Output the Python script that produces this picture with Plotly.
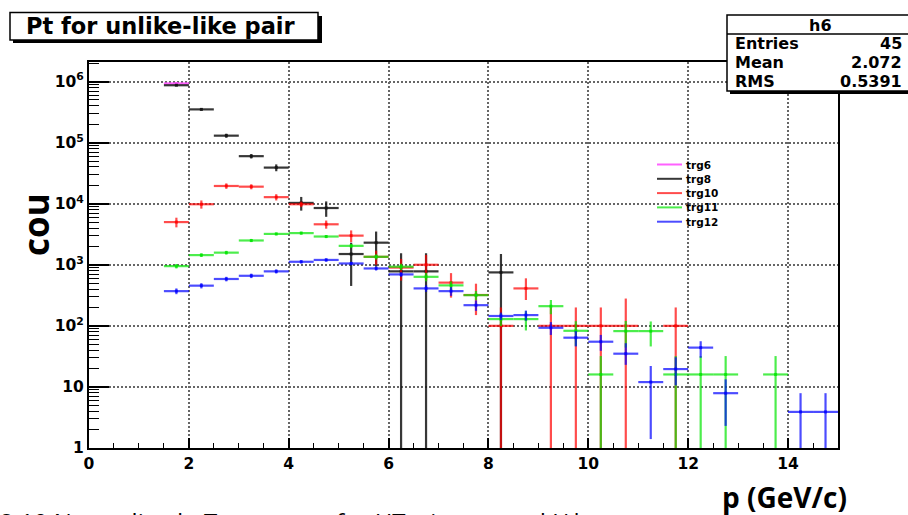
import plotly.graph_objects as go

# ---------------- data ----------------
BIN_WIDTH = 0.5
series_names = ["trg6", "trg8", "trg10", "trg11", "trg12"]
series_colors = ["rgba(255,80,255,0.9)", "rgba(20,20,20,0.85)", "rgba(255,0,0,0.7)",
                 "rgba(0,230,0,0.7)", "rgba(0,0,255,0.7)"]

trg6_x = [1.75]
trg6_y = [9.3e5]
trg6_ep = [1.0e4]
trg6_em = [1.0e4]

trg8_x = [1.75, 2.25, 2.75, 3.25, 3.75, 4.25, 4.75, 5.25, 5.75, 6.25, 6.75, 8.25]
trg8_y = [8.7e5, 3.5e5, 1.3e5, 6.0e4, 3.9e4, 1.03e4, 8.5e3, 1.5e3, 2.3e3, 780, 780, 750]
trg8_ep = [2e4, 1.5e4, 1e4, 5e3, 5e3, 2.6e3, 2.4e3, 800, 1200, 770, 770, 750]
trg8_em = [2e4, 1.5e4, 1e4, 5e3, 5e3, 2.6e3, 2.4e3, 1050, 1370, 780, 780, 750]

trg10_x = [1.75, 2.25, 2.75, 3.25, 3.75, 4.25, 4.75, 5.25, 5.75, 6.25, 6.75, 7.25, 7.75,
           8.25, 8.75, 9.25, 9.75, 10.25, 10.75, 11.75]
trg10_y = [5.0e3, 9.8e3, 1.95e4, 1.9e4, 1.28e4, 9.8e3, 4.6e3, 3.0e3, 1.35e3, 900, 1000, 510, 320,
           100, 410, 100, 100, 100, 100, 100]
trg10_ep = [900, 1500, 2000, 1800, 1500, 1000, 700, 650, 350, 350, 450, 220, 170,
            100, 190, 100, 100, 100, 180, 100]
trg10_em = [900, 1500, 2000, 1800, 1500, 1000, 700, 650, 350, 350, 450, 220, 170,
            100, 145, 100, 100, 100, 100, 100]

trg11_x = [1.75, 2.25, 2.75, 3.25, 3.75, 4.25, 4.75, 5.25, 5.75, 6.25, 6.75, 7.25, 7.75,
           8.25, 8.75, 9.25, 9.75, 10.25, 10.75, 11.25, 11.75, 12.25, 12.75, 13.75]
trg11_y = [950, 1440, 1580, 2500, 3200, 3300, 2900, 2040, 1350, 930, 635, 460, 318,
           129, 129, 210, 83, 16, 82, 82, 16, 16, 16, 16]
trg11_ep = [80, 100, 110, 150, 170, 180, 170, 150, 130, 110, 100, 75, 55,
            30, 45, 55, 36, 16, 38, 36, 16, 16, 16, 16]
trg11_em = [80, 100, 110, 150, 170, 180, 170, 150, 130, 110, 100, 75, 55,
            30, 45, 55, 36, 16, 38, 36, 16, 16, 16, 16]

trg12_x = [1.75, 2.25, 2.75, 3.25, 3.75, 4.25, 4.75, 5.25, 5.75, 6.25, 6.75, 7.25, 7.75,
           8.25, 8.75, 9.25, 9.75, 10.25, 10.75, 11.25, 11.75, 12.25, 12.75, 14.25, 14.75]
trg12_y = [370, 455, 585, 660, 780, 1120, 1200, 1050, 870, 695, 410, 370, 218,
           145, 150, 93, 64, 55, 35, 12, 19.6, 44, 7.9, 3.9, 3.9]
trg12_ep = [40, 45, 50, 55, 60, 70, 75, 70, 65, 60, 50, 60, 42,
            20, 28, 22, 18, 16, 17, 10, 11, 12, 5.4, 4, 4]
trg12_em = [40, 45, 50, 55, 60, 70, 75, 70, 65, 60, 50, 60, 42,
            20, 28, 22, 18, 16, 12, 10.6, 9, 14, 5.6, 3.9, 3.9]

x_ticks = [0, 2, 4, 6, 8, 10, 12, 14]
y_tickvals = [1, 10, 100, 1e3, 1e4, 1e5, 1e6]
y_ticktext = ["1", "10", "10<sup>2</sup>", "10<sup>3</sup>", "10<sup>4</sup>",
              "10<sup>5</sup>", "10<sup>6</sup>"]

title_text = "Pt for unlike-like pair"
stats_name = "h6"
stats_rows = [("Entries", "45"), ("Mean", "2.072"), ("RMS", "0.5391")]
x_title = "p (GeV/c)"
y_title = "cou"
caption = "2.10 Normalized pT spectrum for HT triggers and J/ψ"

# ---------------- figure ----------------
W, H = 908, 515
L, R, T, B = 89, 838, 62, 448
PW, PH = R - L, B - T


def px(x):
    return (x - L) / PW


def py(y):
    return (B - y) / PH


all_series = [
    (trg6_x, trg6_y, trg6_ep, trg6_em),
    (trg8_x, trg8_y, trg8_ep, trg8_em),
    (trg10_x, trg10_y, trg10_ep, trg10_em),
    (trg11_x, trg11_y, trg11_ep, trg11_em),
    (trg12_x, trg12_y, trg12_ep, trg12_em),
]

fig = go.Figure()
for name, color, (xs, ys, ep, em) in zip(series_names, series_colors, all_series):
    lower = [max(y - e, 0.05) for y, e in zip(ys, em)]
    em_clamped = [y - lo for y, lo in zip(ys, lower)]
    fig.add_trace(go.Scatter(
        x=xs, y=ys, mode="markers", name=name, showlegend=False,
        marker=dict(size=3, color=color, symbol="square"),
        error_x=dict(type="data", array=[BIN_WIDTH / 2] * len(xs), width=0,
                     thickness=2.2, color=color),
        error_y=dict(type="data", symmetric=False, array=ep, arrayminus=em_clamped,
                     width=0, thickness=2.2, color=color),
        hoverinfo="x+y+name",
    ))

tick_font = dict(family="DejaVu Sans", size=15.5, color="black", weight="bold")
GRID_DASH = "1.5px,2.5px"

fig.update_xaxes(
    range=[0, 15], tickmode="array", tickvals=x_ticks, ticks="inside", ticklen=10,
    tickwidth=1.5, tickcolor="black", showline=True, linewidth=2, linecolor="black",
    mirror=True, showgrid=True, gridcolor="#666", griddash=GRID_DASH, gridwidth=1.5,
    zeroline=False, tickfont=tick_font,
    minor=dict(tickmode="array", tickvals=[v * 0.5 for v in range(0, 31)],
               ticks="inside", ticklen=5, tickwidth=1.2, tickcolor="black", showgrid=False),
)
fig.update_yaxes(
    type="log", range=[0, 6.32], tickmode="array", tickvals=y_tickvals, ticktext=y_ticktext,
    ticks="inside", ticklen=20, tickwidth=1.5, tickcolor="black",
    showline=True, linewidth=2, linecolor="black", mirror=True,
    showgrid=True, gridcolor="#666", griddash=GRID_DASH, gridwidth=1.5,
    zeroline=False, tickfont=tick_font,
    minor=dict(tickmode="array",
               tickvals=[m * 10 ** d for d in range(0, 7) for m in range(2, 10)],
               ticks="inside", ticklen=10, tickwidth=1.2, tickcolor="black", showgrid=False),
)

shapes = []
annotations = []

# title box with shadow
shapes.append(dict(type="rect", xref="paper", yref="paper", x0=px(13), x1=px(322),
                   y0=py(16), y1=py(43), fillcolor="black", line=dict(width=0), layer="above"))
shapes.append(dict(type="rect", xref="paper", yref="paper", x0=px(10), x1=px(318),
                   y0=py(12.5), y1=py(40), fillcolor="white",
                   line=dict(color="black", width=1.5), layer="above"))
annotations.append(dict(xref="paper", yref="paper", x=px(161), y=py(26.5), text=title_text,
                        showarrow=False, xanchor="center", yanchor="middle",
                        font=dict(family="DejaVu Sans", size=22.5, color="black", weight="bold")))

# stats box with shadow
shapes.append(dict(type="rect", xref="paper", yref="paper", x0=px(730), x1=px(915),
                   y0=py(18), y1=py(94), fillcolor="black", line=dict(width=0), layer="above"))
shapes.append(dict(type="rect", xref="paper", yref="paper", x0=px(727), x1=px(912),
                   y0=py(15), y1=py(91), fillcolor="white",
                   line=dict(color="black", width=1.5), layer="above"))
shapes.append(dict(type="line", xref="paper", yref="paper", x0=px(727), x1=px(912),
                   y0=py(34), y1=py(34), line=dict(color="black", width=1.5), layer="above"))
stats_font = dict(family="DejaVu Sans", size=16, color="black", weight="bold")
annotations.append(dict(xref="paper", yref="paper", x=px(820), y=py(25), text=stats_name,
                        showarrow=False, xanchor="center", yanchor="middle", font=stats_font))
for i, (lab, val) in enumerate(stats_rows):
    yy = 43.5 + i * 19
    annotations.append(dict(xref="paper", yref="paper", x=px(733), y=py(yy), text=lab,
                            showarrow=False, xanchor="left", yanchor="middle", font=stats_font))
    annotations.append(dict(xref="paper", yref="paper", x=px(904), y=py(yy), text=val,
                            showarrow=False, xanchor="right", yanchor="middle", font=stats_font))

# legend (drawn manually to match ROOT spacing)
for i, (name, color) in enumerate(zip(series_names, series_colors)):
    yy = 164.5 + i * 14.3
    shapes.append(dict(type="line", xref="paper", yref="paper", x0=px(657), x1=px(682),
                       y0=py(yy), y1=py(yy), line=dict(color=color, width=2)))
    annotations.append(dict(xref="paper", yref="paper", x=px(684), y=py(yy), text=name,
                            showarrow=False, xanchor="left", yanchor="middle",
                            font=dict(family="DejaVu Sans", size=10.5, color="black",
                                      weight="bold")))

# axis titles
annotations.append(dict(xref="paper", yref="paper", x=px(36), y=py(225), text=y_title,
                        showarrow=False, textangle=-90, xanchor="center", yanchor="middle",
                        font=dict(family="Open Sans", size=35, color="black", weight="bold")))
annotations.append(dict(xref="paper", yref="paper", x=px(849), y=py(497), text=x_title,
                        showarrow=False, xanchor="right", yanchor="middle",
                        font=dict(family="Open Sans", size=28, color="black", weight="bold")))
annotations.append(dict(xref="paper", yref="paper", x=px(-2), y=py(503), text=caption,
                        showarrow=False, xanchor="left", yanchor="top",
                        font=dict(family="Open Sans", size=24, color="black")))

fig.update_layout(
    width=W, height=H, autosize=False,
    margin=dict(l=L, r=W - R, t=T, b=H - B, pad=0),
    paper_bgcolor="white", plot_bgcolor="white",
    showlegend=False, shapes=shapes, annotations=annotations,
)

fig.write_html("out.html")
